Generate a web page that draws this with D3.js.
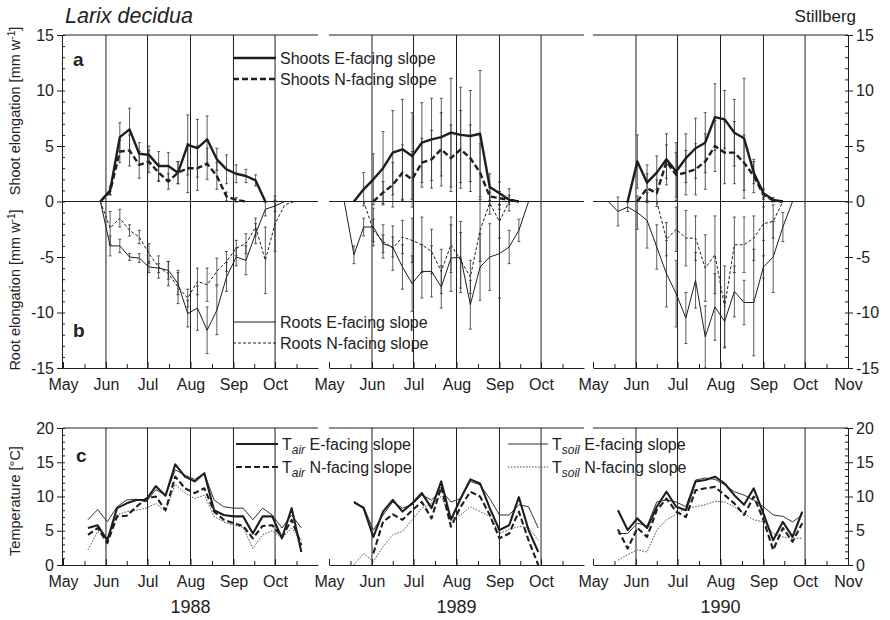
<!DOCTYPE html>
<html><head><meta charset="utf-8">
<script src="https://cdn.jsdelivr.net/npm/d3@7"></script>
<style>
body{margin:0;background:#fff}
text{font-family:"Liberation Sans",Arial,Helvetica,sans-serif;fill:#222}
</style>
</head><body>
<svg id="c" width="890" height="620"></svg>
<script>
// ---------------- DATA ----------------
const years = [1988, 1989, 1990];
const monthNames = ["May","Jun","Jul","Aug","Sep","Oct","Nov"];
const growthTicks = [-15,-10,-5,0,5,10,15];
const tempTicks = [0,5,10,15,20];

// weekly sampling dates (MM-DD)
const growthDates1988 = ["05-28","06-04","06-11","06-18","06-25","07-02","07-09","07-16","07-23","07-30","08-06","08-13","08-20","08-27","09-03","09-10","09-17","09-24","10-01","10-08","10-15"];
const growthDates1989 = ["05-12","05-19","05-26","06-02","06-09","06-16","06-23","06-30","07-07","07-14","07-21","07-28","08-04","08-11","08-18","08-25","09-01","09-08","09-15","09-22"];
const growthDates1990 = ["05-12","05-19","05-26","06-02","06-09","06-16","06-23","06-30","07-07","07-14","07-21","07-28","08-04","08-11","08-18","08-25","09-01","09-08","09-15","09-22"];

// shoot / root elongation [mm per week] and their error bars
const shootE1988   = [0,1.0,5.8,6.5,4.3,4.2,3.2,3.2,2.6,5.1,4.8,5.6,3.8,2.9,2.5,2.3,1.9,0,null,null,null];
const shootESd1988 = [null,0.4,1.3,1.9,1.0,0.8,1.3,1.2,1.0,2.7,2.6,2.1,1.0,1.3,0.8,0.6,0.5,null,null,null,null];
const shootN1988   = [0,0.9,4.5,4.6,3.3,3.6,2.6,1.8,2.6,3.0,3.0,3.4,2.3,0.45,0.15,0,null,null,null,null,null];
const shootNSd1988 = [null,0.3,1.0,1.4,1.2,1.0,0.8,0.7,1.0,2.2,2.0,1.4,1.2,0.4,0.2,null,null,null,null,null,null];
const rootE1988    = [0,-4.0,-4.0,-5.0,-5.1,-5.9,-6.0,-6.2,-7.4,-10.1,-9.6,-11.6,-9.8,-6.8,-5.0,-5.3,-2.9,-0.7,-0.4,0,null];
const rootESd1988  = [null,0.9,0.6,0.3,0.4,0.5,0.4,0.8,1.0,1.2,2.0,2.1,2.2,1.3,0.8,1.3,0.9,0.6,0.5,null,null];
const rootN1988    = [0,-2.4,-1.5,-2.6,-3.2,-4.7,-5.9,-6.5,-7.7,-8.7,-7.2,-7.5,-6.3,-5.4,-4.2,-3.8,-2.3,-5.3,-2.0,-0.3,0];
const rootNSd1988  = [null,1.5,0.8,0.5,0.6,0.9,1.0,1.1,1.5,0.8,1.2,1.5,1.2,0.9,0.7,0.9,0.8,3.0,2.5,null,null];

const shootE1989   = [null,0,1.1,2.0,3.0,4.4,4.7,4.1,5.3,5.6,5.8,6.2,6.0,5.9,6.1,1.3,0.75,0.15,0,null];
const shootESd1989 = [null,null,1.5,2.3,3.3,3.8,4.5,3.9,3.6,3.7,3.5,4.9,4.3,4.1,5.7,1.2,1.0,1.0,null,null];
const shootN1989   = [null,null,null,0,0.8,1.5,2.6,2.0,3.5,3.8,4.7,3.9,4.7,3.9,2.6,0.45,0.3,0.15,0,null];
const shootNSd1989 = [null,null,null,null,1.0,2.0,2.5,2.5,2.2,2.6,3.3,3.0,3.5,3.0,2.6,0.8,0.6,0.4,null,null];
const rootE1989    = [0,-4.8,-2.3,-2.3,-3.8,-4.1,-5.9,-7.4,-6.3,-6.3,-7.7,-5.1,-5.0,-9.3,-5.9,-5.0,-4.7,-4.1,-2.6,0];
const rootESd1989  = [null,0.8,0.8,1.7,0.8,0.9,2.0,2.5,2.4,2.3,1.9,3.0,3.2,2.2,3.0,3.0,4.0,1.5,1.0,null];
const rootN1989    = [null,null,0,-2.6,-3.6,-4.2,-3.2,-3.5,-3.9,-4.5,-6.3,-3.9,-5.3,-6.8,-2.6,-0.15,-1.8,0,null,null];
const rootNSd1989  = [null,null,null,1.0,1.5,2.0,1.5,2.0,2.5,2.0,2.0,2.5,2.5,1.5,2.8,1.0,1.5,null,null,null];

const shootE1990   = [null,null,0,3.6,1.7,2.6,3.8,2.7,3.9,4.8,5.3,7.6,7.4,6.2,5.7,2.6,0.75,0.15,0,null];
const shootESd1990 = [null,null,null,2.4,1.6,1.5,2.3,2.6,2.2,2.7,2.7,3.0,2.6,3.0,5.4,1.0,0.4,0.2,null,null];
const shootN1990   = [null,null,null,0,1.2,0.75,3.6,2.4,2.6,2.9,3.6,5.0,4.4,4.4,3.5,2.3,0.6,0.1,0,null];
const shootNSd1990 = [null,null,null,null,1.3,1.2,1.5,2.0,2.0,2.3,2.5,2.3,2.8,2.8,2.5,1.5,0.4,null,null,null];
const rootE1990    = [0,-0.9,-0.5,-1.0,-1.7,-4.1,-6.5,-8.3,-10.5,-7.1,-12.2,-9.5,-10.8,-8.1,-9.1,-9.1,-5.9,-5.0,-2.3,0];
const rootESd1990  = [null,1.3,0.4,1.5,2.5,2.0,3.0,3.0,2.3,2.5,2.8,3.0,2.3,2.3,2.0,4.8,1.0,3.2,1.3,null];
const rootN1990    = [null,null,null,null,null,0,-3.4,-2.5,-3.3,-3.3,-6.0,-4.8,-9.5,-3.9,-3.9,-3.3,-2.0,-1.8,0,null];
const rootNSd1990  = [null,null,null,null,null,null,1.5,2.0,2.5,2.0,3.0,3.5,3.7,2.5,2.5,2.0,1.5,1.5,null,null];

// temperatures [°C]
const tempDates1988 = ["05-19","05-26","06-02","06-09","06-16","06-23","06-30","07-07","07-14","07-21","07-28","08-04","08-11","08-18","08-25","09-01","09-08","09-15","09-22","09-29","10-06","10-13","10-20"];
const tempDates1989 = ["05-19","05-26","06-02","06-09","06-16","06-23","06-30","07-07","07-14","07-21","07-28","08-04","08-11","08-18","08-25","09-01","09-08","09-15","09-22","09-29"];
const tempDates1990 = ["05-19","05-26","06-02","06-09","06-16","06-23","06-30","07-07","07-14","07-21","07-28","08-04","08-11","08-18","08-25","09-01","09-08","09-15","09-22","09-29"];

const airE1988  = [5.4,5.8,3.6,8.3,9.0,9.5,9.5,11.5,10.1,14.7,12.9,12.2,13.4,8.0,7.3,7.1,7.1,4.6,7.1,7.1,3.9,8.3,1.9];
const airN1988  = [4.4,5.4,3.2,7.1,7.2,8.5,9.7,10.0,8.0,12.9,11.2,10.5,11.2,7.8,6.6,6.1,5.7,3.9,5.7,5.8,4.1,6.6,2.9];
const soilE1988 = [6.6,8.1,6.3,8.5,9.5,9.6,9.2,11.0,10.2,13.9,13.1,12.5,13.4,9.5,8.5,8.3,8.3,6.6,8.3,7.3,5.4,7.3,5.4];
const soilN1988 = [2.2,4.9,3.9,7.3,7.8,8.0,8.3,9.0,7.8,11.8,10.5,9.7,10.2,7.1,6.3,5.8,5.5,2.4,4.4,5.0,3.9,5.4,3.6];

const airE1989  = [9.2,8.3,4.1,7.8,9.5,7.8,9.0,10.5,8.3,12.2,6.6,9.7,12.5,11.9,8.3,5.1,5.8,9.9,5.1,1.9];
const airN1989  = [null,null,1.7,6.3,7.4,6.6,8.0,9.2,6.8,11.4,5.6,8.5,10.7,10.0,7.3,3.9,4.6,7.8,3.6,0];
const soilE1989 = [9.0,8.5,5.1,7.3,9.2,8.3,8.8,10.2,9.5,10.9,9.2,9.7,12.2,11.7,9.7,7.3,7.3,8.8,8.5,5.4];
const soilN1989 = [0,1.7,0.5,2.7,4.4,4.9,6.6,8.3,9.0,10.0,6.8,7.3,8.5,7.8,7.1,4.6,5.2,5.6,5.5,3.6];

const airE1990  = [8.0,5.1,6.8,5.4,8.5,10.7,8.5,8.0,12.2,12.4,12.9,11.9,10.2,8.8,11.2,7.5,3.6,6.3,4.1,7.8];
const airN1990  = [5.2,2.4,5.4,4.1,8.0,9.7,7.8,7.0,10.9,11.2,11.4,10.2,9.0,7.3,10.0,6.6,2.2,5.4,3.4,6.1];
const soilE1990 = [4.6,4.6,6.1,5.7,9.2,9.5,9.2,8.5,12.4,12.7,12.5,11.7,10.7,10.2,9.5,8.5,7.3,7.1,6.3,7.3];
const soilN1990 = [0.7,1.5,2.2,1.9,5.1,6.6,7.4,8.3,8.5,8.8,9.3,9.2,8.5,7.5,6.6,6.3,4.6,4.1,3.9,3.9];

// ---------------- TABLES BUILT FROM THE ARRAYS ----------------
const growthTable = {
  1988:{dates:growthDates1988, shootE:[shootE1988,shootESd1988], shootN:[shootN1988,shootNSd1988], rootE:[rootE1988,rootESd1988], rootN:[rootN1988,rootNSd1988]},
  1989:{dates:growthDates1989, shootE:[shootE1989,shootESd1989], shootN:[shootN1989,shootNSd1989], rootE:[rootE1989,rootESd1989], rootN:[rootN1989,rootNSd1989]},
  1990:{dates:growthDates1990, shootE:[shootE1990,shootESd1990], shootN:[shootN1990,shootNSd1990], rootE:[rootE1990,rootESd1990], rootN:[rootN1990,rootNSd1990]}
};
const tempTable = {
  1988:{dates:tempDates1988, airE:airE1988, airN:airN1988, soilE:soilE1988, soilN:soilN1988},
  1989:{dates:tempDates1989, airE:airE1989, airN:airN1989, soilE:soilE1989, soilN:soilN1989},
  1990:{dates:tempDates1990, airE:airE1990, airN:airN1990, soilE:soilE1990, soilN:soilN1990}
};

// ---------------- STYLE / LAYOUT ----------------
const FONT = '"Liberation Sans", Arial, Helvetica, sans-serif';
const INK = "#1e1e1e";
const style = {
  shootE:{w:2.4, dash:null, c:INK},
  shootN:{w:2.4, dash:"6,3", c:INK},
  rootE:{w:1.0, dash:null, c:INK},
  rootN:{w:1.0, dash:"3,2", c:INK},
  airE:{w:2.1, dash:null, c:INK},
  airN:{w:2.1, dash:"6,3", c:INK},
  soilE:{w:1.0, dash:null, c:"#333"},
  soilN:{w:1.0, dash:"1.6,1.4", c:"#555"}
};
const TICK_FS = 16;
const panelRange = [[63,318],[329,584],[593,848]];
const yG = d3.scaleLinear().domain([-15,15]).range([368,35]);
const yT = d3.scaleLinear().domain([0,20]).range([565,428]);
const parse = d3.timeParse("%Y-%m-%d");

const svg = d3.select("#c");
svg.append("rect").attr("width",890).attr("height",620).attr("fill","#fff");

function styleAxis(g, size){
  g.attr("font-family", FONT).attr("font-size", size);
  g.selectAll("text").attr("fill","#222");
  g.selectAll("line,path").attr("stroke", INK).attr("stroke-width",1);
}

years.forEach((yr, i) => {
  const [x0, x1] = panelRange[i];
  const x = d3.scaleTime().domain([new Date(yr,4,1), new Date(yr,10,1)]).range([x0, x1]);
  const months = d3.timeMonth.range(new Date(yr,4,1), new Date(yr,10,2));
  const labelMonths = i < 2 ? months.slice(0,6) : months;
  const gridMonths = months.slice(1,6);
  const mids = months.slice(0,6).map((m,k) => new Date((+m + +months[k+1])/2));

  [[yG, 35, 368], [yT, 428, 565]].forEach(([yS, top, bot], pi) => {
    const g = svg.append("g");
    g.append("line").attr("x1",x0).attr("x2",x1).attr("y1",top).attr("y2",top)
      .attr("stroke",INK).attr("stroke-width",1);
    g.selectAll(".grid").data(gridMonths).join("line")
      .attr("x1",d=>x(d)).attr("x2",d=>x(d)).attr("y1",top).attr("y2",bot)
      .attr("stroke",INK).attr("stroke-width",1);
    if (pi === 0) g.append("line").attr("x1",x0).attr("x2",x1).attr("y1",yS(0)).attr("y2",yS(0))
      .attr("stroke",INK).attr("stroke-width",1);
    const ax = g.append("g").attr("transform",`translate(0,${bot})`)
      .call(d3.axisBottom(x).tickValues(labelMonths).tickSizeInner(-6).tickSizeOuter(0)
        .tickPadding(11).tickFormat(d => monthNames[d.getMonth()-4]));
    styleAxis(ax, TICK_FS);
    const axm = g.append("g").attr("transform",`translate(0,${bot})`)
      .call(d3.axisBottom(x).tickValues(mids).tickSize(-4).tickFormat(""));
    axm.select(".domain").remove();
    styleAxis(axm, TICK_FS);

    const ticks = pi === 0 ? growthTicks : tempTicks;
    const minor = pi === 0 ? d3.range(-15,16,1) : d3.range(0,21,1);
    if (i === 0 || i === 2) {
      const axisF = i === 0 ? d3.axisLeft : d3.axisRight;
      const ax0 = i === 0 ? x0 - 1 : x1;
      const ya = g.append("g").attr("transform",`translate(${ax0},0)`)
        .call(axisF(yS).tickValues(ticks).tickSize(5).tickPadding(3).tickFormat(d => String(d)));
      styleAxis(ya, TICK_FS);
      const ym = g.append("g").attr("transform",`translate(${ax0},0)`)
        .call(axisF(yS).tickValues(minor).tickSize(-3).tickFormat(""));
      ym.select(".domain").remove();
      styleAxis(ym, TICK_FS);
    }
  });

  // ---- growth series ----
  const gt = growthTable[yr];
  const gDates = gt.dates.map(s => parse(yr + "-" + s));
  const sg = svg.append("g");
  ["rootN","rootE","shootN","shootE"].forEach(key => {
    const [vals, sds] = gt[key];
    const pts = gDates.map((d,k) => ({d, v:vals[k], sd:sds[k]}));
    const st = style[key];
    const eb = pts.filter(p => p.v != null && p.sd != null);
    sg.selectAll(null).data(eb).join("line")
      .attr("x1",p=>x(p.d)).attr("x2",p=>x(p.d))
      .attr("y1",p=>yG(p.v - p.sd)).attr("y2",p=>yG(p.v + p.sd))
      .attr("stroke","#333").attr("stroke-width",0.8);
    [-1,1].forEach(s => {
      sg.selectAll(null).data(eb).join("line")
        .attr("x1",p=>x(p.d)-1.5).attr("x2",p=>x(p.d)+1.5)
        .attr("y1",p=>yG(p.v + s*p.sd)).attr("y2",p=>yG(p.v + s*p.sd))
        .attr("stroke","#333").attr("stroke-width",0.8);
    });
    const line = d3.line().defined(p => p.v != null).x(p => x(p.d)).y(p => yG(p.v));
    sg.append("path").attr("d", line(pts)).attr("fill","none")
      .attr("stroke", st.c).attr("stroke-width", st.w)
      .attr("stroke-dasharray", st.dash).attr("stroke-linejoin","round");
  });

  // ---- temperature series ----
  const tt = tempTable[yr];
  const tDates = tt.dates.map(s => parse(yr + "-" + s));
  const tg = svg.append("g");
  ["soilN","soilE","airN","airE"].forEach(key => {
    const pts = tDates.map((d,k) => ({d, v:tt[key][k]}));
    const st = style[key];
    const line = d3.line().defined(p => p.v != null).x(p => x(p.d)).y(p => yT(p.v));
    tg.append("path").attr("d", line(pts)).attr("fill","none")
      .attr("stroke", st.c).attr("stroke-width", st.w)
      .attr("stroke-dasharray", st.dash).attr("stroke-linejoin","round");
  });

  svg.append("text").attr("x", x(new Date(yr,7,1))).attr("y", 613)
    .attr("text-anchor","middle").attr("font-size",18).text(String(yr));
});

// ---------------- TEXT ----------------
svg.append("text").attr("x",65).attr("y",23).attr("font-size",21.5)
  .attr("font-style","italic").text("Larix decidua");
svg.append("text").attr("x",856).attr("y",22).attr("font-size",17)
  .attr("text-anchor","end").text("Stillberg");

[["a",73,66],["b",73,337],["c",76,462]].forEach(([t,xx,yy]) =>
  svg.append("text").attr("x",xx).attr("y",yy).attr("font-size",19)
    .attr("font-weight","bold").text(t));

function yLabel(cx, cy, main, sup, tail){
  const t = svg.append("text").attr("transform",`translate(${cx},${cy}) rotate(-90)`)
    .attr("text-anchor","middle").attr("font-size",14.5);
  t.append("tspan").text(main);
  if (sup) {
    t.append("tspan").attr("font-size",10).attr("dy",-5).text(sup);
    t.append("tspan").attr("dy",5).text(tail);
  }
}
yLabel(20, 111, "Shoot elongation [mm w", "-1", "]");
yLabel(20, 290, "Root elongation [mm w", "-1", "]");
yLabel(20, 501, "Temperature [°C]");

// legends
function legend(x1, x2, y, key, parts){
  const st = style[key];
  svg.append("line").attr("x1",x1).attr("x2",x2).attr("y1",y).attr("y2",y)
    .attr("stroke",st.c).attr("stroke-width",st.w).attr("stroke-dasharray",st.dash);
  const t = svg.append("text").attr("x",x2+4).attr("y",y+5.5).attr("font-size",16);
  parts.forEach(p => {
    const s = t.append("tspan").text(p.t);
    if (p.sub) s.attr("font-size",12).attr("font-style","italic").attr("dy",4);
    if (p.back) s.attr("dy",-4);
  });
}
legend(233,276,58,"shootE",[{t:"Shoots E-facing slope"}]);
legend(233,276,79,"shootN",[{t:"Shoots N-facing slope"}]);
legend(233,276,322,"rootE",[{t:"Roots E-facing slope"}]);
legend(233,276,343,"rootN",[{t:"Roots N-facing slope"}]);
legend(236,278,444,"airE",[{t:"T"},{t:"air",sub:true},{t:" E-facing slope",back:true}]);
legend(236,278,467,"airN",[{t:"T"},{t:"air",sub:true},{t:" N-facing slope",back:true}]);
legend(508,548,444,"soilE",[{t:"T"},{t:"soil",sub:true},{t:" E-facing slope",back:true}]);
legend(508,548,467,"soilN",[{t:"T"},{t:"soil",sub:true},{t:" N-facing slope",back:true}]);
</script>
</body></html>
